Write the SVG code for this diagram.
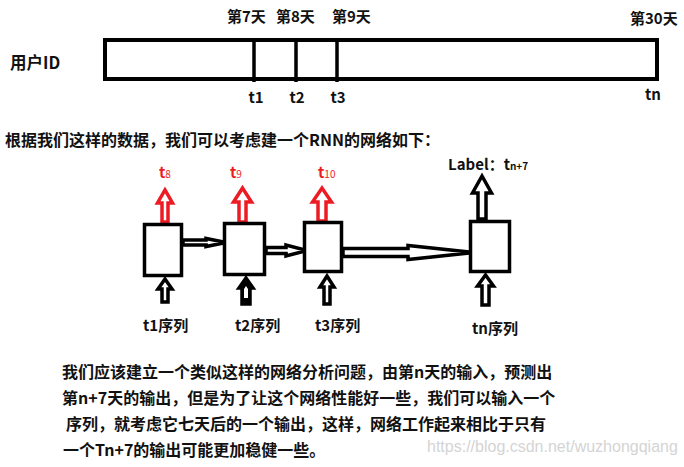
<svg xmlns="http://www.w3.org/2000/svg" width="684" height="467" viewBox="0 0 684 467">
<style>
  .t { font-family: "Noto Sans CJK SC", "Liberation Sans", sans-serif; font-weight: bold; fill: #111; }
  .box { fill: #fff; stroke: #000; stroke-width: 3.5; }
  .red { fill: #fff; stroke: #ED1C24; stroke-width: 3.5; stroke-linejoin: miter; }
  .blk { fill: #fff; stroke: #000; stroke-width: 3.5; stroke-linejoin: miter; }
  .rt { font-family: "Noto Sans CJK SC", "Liberation Sans", sans-serif; font-weight: bold; fill: #ED1C24; }
  .wm { font-family: "Liberation Sans", sans-serif; fill: #d4d4d4; font-size: 16px; }
</style>
<rect width="684" height="467" fill="#fff"/>

<!-- timeline -->
<g id="timeline">
  <rect x="105" y="40" width="552" height="39" fill="#fff" stroke="#000" stroke-width="4"/>
  <line x1="254" y1="40" x2="254" y2="82" stroke="#000" stroke-width="3.5"/>
  <line x1="296" y1="40" x2="296" y2="82" stroke="#000" stroke-width="3.5"/>
  <line x1="337" y1="40" x2="337" y2="82" stroke="#000" stroke-width="3.5"/>
  <text class="t" x="10" y="69" font-size="16.5">用户ID</text>
  <text class="t" x="227" y="22" font-size="15">第7天</text>
  <text class="t" x="276" y="22" font-size="15">第8天</text>
  <text class="t" x="332" y="22" font-size="15">第9天</text>
  <text class="t" x="630" y="24" font-size="15">第30天</text>
  <text class="t" x="256" y="103" font-size="15" text-anchor="middle">t1</text>
  <text class="t" x="297" y="103" font-size="15" text-anchor="middle">t2</text>
  <text class="t" x="338" y="103" font-size="15" text-anchor="middle">t3</text>
  <text class="t" x="653" y="100" font-size="15" text-anchor="middle">tn</text>
</g>

<text class="t" x="5" y="146" font-size="16">根据我们这样的数据，我们可以考虑建一个RNN的网络如下：</text>

<!-- connectors -->
<g id="connectors">
  <!-- box1 -> box2 -->
  <polygon class="blk" points="183,240 206,240 206,238.5 226,242.5 206,246.5 206,245 183,245"/>
  <!-- box2 -> box3 -->
  <polygon class="blk" points="266,247.5 286,247.5 286,245 307,250.5 286,256 286,253.5 266,253.5"/>
  <!-- box3 -> box4 -->
  <polygon class="blk" points="343,248.5 408,248.5 408,245.5 474,252.5 408,259.5 408,256.5 343,256.5"/>
  <!-- output arrows -->
  <polygon class="red" points="162,222 162,203 157.5,203 165,190 172.5,203 168,203 168,222"/>
  <polygon class="red" points="239,222 239,202 233.5,202 242.5,188 251.5,202 246,202 246,222"/>
  <polygon class="red" points="318,221 318,202 312.5,202 322,188 331.5,202 326,202 326,221"/>
  <polygon class="blk" points="478,219 478,193 472.5,193 482,176 491.5,193 486,193 486,219"/>
  <!-- input arrows -->
  <polygon class="blk" points="162,302 162,289 158,289 165,279 172,289 168,289 168,302"/>
  <polygon class="blk" points="242,304 242,288 239,288 246,278 253,288 250,288 250,304" style="fill:#000"/>
  <polygon class="blk" points="244,298 244,289 246,286 248,289 248,298" style="fill:#fff;stroke:none"/>
  <polygon class="blk" points="324,304 324,287 320,287 327,276 334,287 330,287 330,304"/>
  <polygon class="blk" points="482,305 482,286 477.5,286 485.5,275 493.5,286 489,286 489,305"/>
</g>

<!-- nodes -->
<g id="node1">
  <rect class="box" x="144.5" y="224.5" width="37" height="51"/>
  <text class="rt" x="159" y="178" font-size="15">t<tspan font-size="10" font-weight="normal">8</tspan></text>
  <text class="t" x="143" y="331" font-size="15">t1序列</text>
</g>
<g id="node2">
  <rect class="box" x="224.5" y="223.5" width="40" height="51"/>
  <text class="rt" x="230" y="178" font-size="15">t<tspan font-size="10" font-weight="normal">9</tspan></text>
  <text class="t" x="235" y="331" font-size="15">t2序列</text>
</g>
<g id="node3">
  <rect class="box" x="304.5" y="222.5" width="37" height="49"/>
  <text class="rt" x="318" y="178" font-size="15">t<tspan font-size="10" font-weight="normal">10</tspan></text>
  <text class="t" x="315" y="331" font-size="15">t3序列</text>
</g>
<g id="node4">
  <rect class="box" x="470.5" y="221.5" width="39" height="50"/>
  <text class="t" x="448" y="170" font-size="15">Label：t<tspan font-size="10">n+7</tspan></text>
  <text class="t" x="472" y="334" font-size="15">tn序列</text>
</g>

<g id="paragraph">
  <text class="t" x="62" y="378" font-size="16">我们应该建立一个类似这样的网络分析问题，由第n天的输入，预测出</text>
  <text class="t" x="62" y="404" font-size="16">第n+7天的输出，但是为了让这个网络性能好一些，我们可以输入一个</text>
  <text class="t" x="66" y="430" font-size="16">序列，就考虑它七天后的一个输出，这样，网络工作起来相比于只有</text>
  <text class="t" x="63" y="456" font-size="16">一个Tn+7的输出可能更加稳健一些。</text>
</g>
<text class="wm" x="427" y="452">https://blog.csdn.net/wuzhongqiang</text>
</svg>
